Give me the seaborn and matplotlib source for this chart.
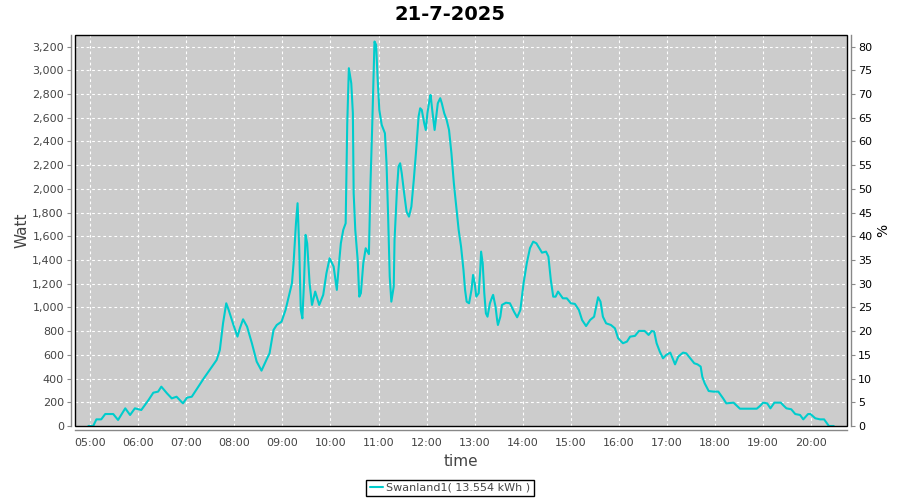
import matplotlib
matplotlib.use("Agg")
import matplotlib.pyplot as plt
import seaborn as sns
import pandas as pd
from matplotlib.ticker import FuncFormatter, MultipleLocator, FixedLocator
from matplotlib.patches import Rectangle

# ---------------- data ----------------
title = "21-7-2025"
series_name = "Swanland1( 13.554 kWh )"
y_label_left = "Watt"
y_label_right = "%"
x_label = "time"

times = [
    "04:58", "05:04", "05:08", "05:14", "05:19", "05:29", "05:35", "05:44", "05:50", "05:56",
    "06:04", "06:13", "06:19", "06:25", "06:29", "06:36", "06:42", "06:48", "06:56", "07:01",
    "07:07", "07:22", "07:38", "07:42", "07:46", "07:50", "07:53", "07:59", "08:04", "08:07",
    "08:11", "08:16", "08:22", "08:28", "08:34", "08:41", "08:44", "08:49", "08:53", "08:59",
    "09:04", "09:08", "09:12", "09:14", "09:17", "09:19", "09:21", "09:23", "09:25", "09:27",
    "09:29", "09:31", "09:34", "09:37", "09:41", "09:46", "09:51", "09:55", "09:59", "10:04",
    "10:08", "10:10", "10:13", "10:16", "10:19", "10:21", "10:23", "10:26", "10:28", "10:29",
    "10:31", "10:34", "10:36", "10:38", "10:41", "10:44", "10:48", "10:50", "10:52", "10:55",
    "10:57", "10:59", "11:01", "11:04", "11:08", "11:10", "11:12", "11:14", "11:16", "11:19",
    "11:20", "11:23", "11:25", "11:27", "11:29", "11:32", "11:35", "11:38", "11:41", "11:44",
    "11:47", "11:50", "11:52", "11:54", "11:57", "11:59", "12:01", "12:04", "12:05", "12:07",
    "12:10", "12:11", "12:14", "12:17", "12:19", "12:22", "12:25", "12:28", "12:31", "12:34",
    "12:37", "12:40", "12:43", "12:46", "12:48", "12:50", "12:53", "12:56", "12:58", "13:00",
    "13:02", "13:05", "13:07", "13:08", "13:10", "13:12", "13:14", "13:16", "13:19", "13:22",
    "13:23", "13:26", "13:28", "13:29", "13:32", "13:34", "13:39", "13:44", "13:49", "13:53",
    "13:57", "14:01", "14:05", "14:09", "14:13", "14:17", "14:24", "14:29", "14:32", "14:35",
    "14:38", "14:41", "14:44", "14:50", "14:55", "15:00", "15:05", "15:10", "15:14", "15:19",
    "15:24", "15:29", "15:34", "15:37", "15:40", "15:44", "15:50", "15:55", "15:59", "16:05",
    "16:10", "16:14", "16:20", "16:25", "16:32", "16:37", "16:41", "16:44", "16:47", "16:51",
    "16:55", "16:59", "17:04", "17:07", "17:10", "17:14", "17:20", "17:24", "17:29", "17:34",
    "17:38", "17:42", "17:44", "17:47", "17:52", "17:58", "18:04", "18:10", "18:14", "18:23",
    "18:31", "18:42", "18:52", "18:56", "19:00", "19:05", "19:09", "19:14", "19:22", "19:25",
    "19:29", "19:35", "19:40", "19:46", "19:50", "19:56", "19:59", "20:05", "20:11", "20:16",
    "20:22", "20:28",
]

watts = [
    0, 0, 56, 56, 101, 101, 51, 149, 93, 149,
    135, 219, 281, 290, 332, 276, 233, 247, 191, 239,
    247, 402, 557, 641, 866, 1035, 979, 852, 754, 824,
    900, 838, 698, 543, 467, 571, 613, 810, 852, 880,
    979, 1091, 1204, 1373, 1710, 1879, 1513, 979, 908, 1204,
    1612, 1541, 1204, 1021, 1134, 1021, 1106, 1288, 1415, 1345,
    1148, 1317, 1541, 1654, 1710, 2554, 3018, 2891, 2638, 1963,
    1654, 1401, 1091, 1120, 1373, 1499, 1450, 2048, 2497, 3243,
    3215, 2919, 2666, 2540, 2469, 2216, 1766, 1260, 1049, 1176,
    1569, 1991, 2188, 2216, 2131, 1963, 1808, 1766, 1850, 2075,
    2329, 2610, 2680, 2666, 2554, 2497, 2638, 2765, 2793, 2666,
    2497, 2554, 2722, 2765, 2722, 2638, 2582, 2497, 2300, 2048,
    1850, 1654, 1513, 1317, 1148, 1049, 1035, 1148, 1274, 1204,
    1091, 1120, 1317, 1471, 1373, 1120, 950, 922, 1035, 1091,
    1106, 1007, 894, 852, 922, 1021, 1040, 1035, 965, 917,
    979, 1204, 1373, 1500, 1555, 1541, 1462, 1471, 1429, 1232,
    1091, 1091, 1134, 1077, 1077, 1035, 1030, 979, 894, 843,
    894, 922, 1086, 1049, 922, 866, 852, 824, 740, 698,
    712, 754, 760, 802, 802, 768, 802, 796, 698, 627,
    571, 599, 619, 571, 520, 585, 619, 613, 571, 529,
    520, 501, 416, 360, 295, 290, 290, 233, 191, 197,
    146, 146, 146, 169, 197, 191, 149, 197, 197, 175,
    149, 141, 101, 93, 56, 101, 101, 65, 56, 56,
    0, 0,
]

hour_ticks = ["05:00", "06:00", "07:00", "08:00", "09:00", "10:00", "11:00", "12:00",
              "13:00", "14:00", "15:00", "16:00", "17:00", "18:00", "19:00", "20:00"]


def to_hours(s):
    h, m = s.split(":")
    return int(h) + int(m) / 60.0


df = pd.DataFrame({"hour": [to_hours(t) for t in times], "watt": watts})

# ---------------- style ----------------
sns.set_theme(style="white")
plt.rcParams["font.family"] = ["DejaVu Sans"]

W, H = 900, 500
fig = plt.figure(figsize=(9, 5), dpi=100)
fig.patch.set_facecolor("white")

left, right, top, bottom = 75, 847, 35, 426
ax = fig.add_axes([left / W, 1 - bottom / H, (right - left) / W, (bottom - top) / H])
ax.set_facecolor("#cccccc")

line_color = "#00cccc"
sns.lineplot(data=df, x="hour", y="watt", ax=ax, color=line_color, linewidth=1.5,
             label=series_name, legend=False, zorder=3)

ax.set_xlim(4.688, 20.743)
ax.set_ylim(0, 3298)

ax.xaxis.set_major_locator(FixedLocator([to_hours(t) for t in hour_ticks]))
ax.set_xticklabels(hour_ticks)
ax.yaxis.set_major_locator(MultipleLocator(200))
ax.yaxis.set_major_formatter(FuncFormatter(lambda v, p: f"{int(v):,}"))

ax.grid(True, color="white", linestyle=(0, (2.5, 2.5)), linewidth=0.8, zorder=1)
ax.set_axisbelow(True)

axis_gray = "#888888"
label_gray = "#444444"
for s in ["top", "right"]:
    ax.spines[s].set_visible(False)
for s in ["left", "bottom"]:
    ax.spines[s].set_position(("outward", 3))
    ax.spines[s].set_color(axis_gray)
    ax.spines[s].set_linewidth(1.0)

ax.tick_params(axis="both", direction="out", length=3, width=0.8, color=axis_gray,
               labelcolor=label_gray, labelsize=8, pad=2)
ax.tick_params(axis="x", pad=3)

ax.set_xlabel(x_label, fontsize=11, color=label_gray, labelpad=4)
ax.set_ylabel(y_label_left, fontsize=11, color=label_gray, labelpad=2)

# plot frame
ax.add_patch(Rectangle((0, 0), 1, 1, transform=ax.transAxes, fill=False,
                       edgecolor="black", linewidth=1.0, zorder=5, clip_on=False))

# right axis
ax2 = ax.twinx()
ax2.set_ylim(0, 3298 / 40.0)
ax2.yaxis.set_major_locator(MultipleLocator(5))
ax2.grid(False)
for s in ["top", "left", "bottom"]:
    ax2.spines[s].set_visible(False)
ax2.spines["right"].set_position(("outward", 3))
ax2.spines["right"].set_color(axis_gray)
ax2.spines["right"].set_linewidth(1.0)
ax2.tick_params(axis="y", direction="out", length=3, width=0.8, color=axis_gray,
                labelcolor="black", labelsize=8, pad=2)
ax2.set_ylabel(y_label_right, fontsize=10, color="black", labelpad=3)

# title
fig.text(0.5, 1 - 15 / H, title, ha="center", va="center", fontsize=14,
         fontweight="bold", color="black")

# legend
handles, labels = ax.get_legend_handles_labels()
leg = fig.legend(handles, labels, loc="center", bbox_to_anchor=(0.5, 1 - 488 / H),
                 frameon=True, fancybox=False, edgecolor="black", framealpha=1,
                 fontsize=8, handlelength=1.2, handletextpad=0.3, borderpad=0.3)
leg.get_frame().set_linewidth(1.0)
for t in leg.get_texts():
    t.set_color(label_gray)

fig.savefig("out.png", dpi=100)
